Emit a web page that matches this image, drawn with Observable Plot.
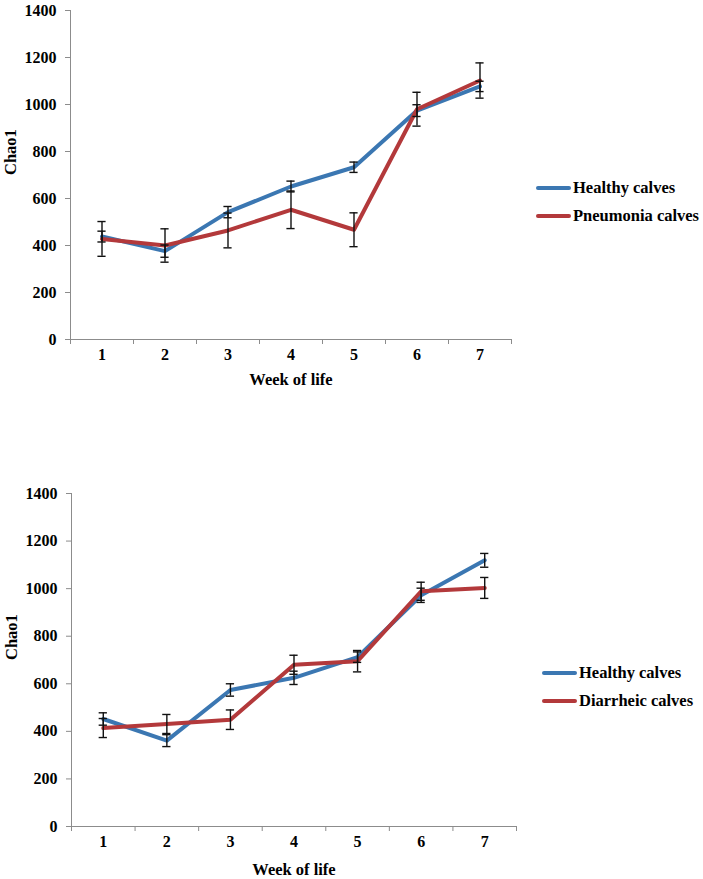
<!DOCTYPE html>
<html>
<head>
<meta charset="utf-8">
<script src="https://cdn.jsdelivr.net/npm/d3@7"></script>
<script src="https://cdn.jsdelivr.net/npm/@observablehq/plot@0.6"></script>
<style>
  body { margin: 0; background: white; }
  #wrap { position: relative; width: 703px; height: 879px; background: white; overflow: hidden; }
  .panel { position: absolute; left: 0; }
  .legend { position: absolute; font-family: "Liberation Serif", "Times New Roman", Tinos, "DejaVu Serif", serif; font-weight: bold; font-size: 16.5px; color: #000; }
  .legend .item { display: flex; align-items: center; height: 28px; }
  .legend .swatch { display: inline-block; width: 35px; height: 4px; border-radius: 2px; margin-right: 2px; }
</style>
</head>
<body>
<div id="wrap"></div>
<script>
// ---------- data ----------
const weeks = [1, 2, 3, 4, 5, 6, 7];
const yTicks = [0, 200, 400, 600, 800, 1000, 1200, 1400];
const xLabel = "Week of life";
const yLabel = "Chao1";

const topSeries = ["Healthy calves", "Pneumonia calves"];
const topHealthy = [438, 376, 542, 651, 733, 974, 1077];
const topHealthyErr = [23, 26, 24, 23, 22, 25, 22];
const topPneumonia = [428, 400, 464, 552, 467, 980, 1102];
const topPneumoniaErr = [74, 71, 74, 80, 72, 72, 75];

const bottomSeries = ["Healthy calves", "Diarrheic calves"];
const bottomHealthy = [452, 361, 574, 625, 712, 972, 1119];
const bottomHealthyErr = [26, 25, 26, 28, 22, 30, 29];
const bottomDiarrheic = [414, 431, 449, 680, 695, 989, 1003];
const bottomDiarrheicErr = [40, 40, 41, 40, 45, 38, 44];

const seriesColors = ["#3b77b2", "#b3393b"];

// ---------- helpers ----------
const FONT = "'Liberation Serif', 'Times New Roman', Tinos, 'DejaVu Serif', serif";
const AXIS = "#8c8c8c";
const boundaries = [0.5, 1.5, 2.5, 3.5, 4.5, 5.5, 6.5, 7.5];

function rows(values, errs) {
  return weeks.map((w, i) => ({week: w, value: values[i], err: errs[i]}));
}

function makeChart(names, valueSets, errSets, layout) {
  const sets = valueSets.map((v, i) => rows(v, errSets[i]));
  const txt = {fontSize: 16, fontWeight: "bold", fontFamily: FONT, fill: "black"};
  const marks = [
    Plot.ruleX([0.5], {stroke: AXIS, strokeWidth: 1}),
    Plot.ruleY([0], {stroke: AXIS, strokeWidth: 1}),
    Plot.axisY({ticks: yTicks, tickSize: 5, stroke: AXIS, label: null, tickFormat: () => ""}),
    Plot.axisX({ticks: boundaries, tickSize: 5, stroke: AXIS, label: null, tickFormat: () => ""}),
    Plot.text(yTicks, {y: d => d, text: d => String(d), frameAnchor: "left", textAnchor: "end", dx: -14, ...txt}),
    Plot.text(weeks, {x: d => d, text: d => String(d), frameAnchor: "bottom", dy: layout.tickDy, ...txt})
  ];
  sets.forEach((data, i) => {
    marks.push(Plot.lineY(data, {x: "week", y: "value", stroke: seriesColors[i], strokeWidth: 4, strokeLinejoin: "round"}));
  });
  sets.forEach((data) => {
    marks.push(Plot.ruleX(data, {x: "week", y1: d => d.value - d.err, y2: d => d.value + d.err, stroke: "#111", strokeWidth: 1.4}));
    marks.push(Plot.ruleY(data, {y: d => d.value + d.err, x1: d => d.week - 0.065, x2: d => d.week + 0.065, stroke: "#111", strokeWidth: 1.4}));
    marks.push(Plot.ruleY(data, {y: d => d.value - d.err, x1: d => d.week - 0.065, x2: d => d.week + 0.065, stroke: "#111", strokeWidth: 1.4}));
  });
  marks.push(Plot.text([yLabel], {text: d => d, frameAnchor: "left", rotate: -90, dx: -60, ...txt, fontSize: 16.5}));
  marks.push(Plot.text([xLabel], {text: d => d, frameAnchor: "bottom", dy: layout.xLabelDy, ...txt, fontSize: 16.5}));

  const chart = Plot.plot({
    width: 703,
    height: layout.height,
    marginLeft: layout.marginLeft,
    marginRight: layout.marginRight,
    marginTop: layout.marginTop,
    marginBottom: layout.marginBottom,
    x: {type: "linear", domain: [0.5, 7.5]},
    y: {domain: [0, 1400]},
    style: {fontFamily: FONT, fontSize: "16px", fontWeight: "bold", color: "black", background: "white", overflow: "visible"},
    marks
  });
  const holder = document.createElement("div");
  holder.className = "panel";
  holder.style.top = layout.top + "px";
  holder.appendChild(chart);
  document.getElementById("wrap").appendChild(holder);

  const legend = document.createElement("div");
  legend.className = "legend";
  legend.style.left = layout.legendLeft + "px";
  legend.style.top = layout.legendTop + "px";
  names.forEach((n, i) => {
    const item = document.createElement("div");
    item.className = "item";
    const sw = document.createElement("span");
    sw.className = "swatch";
    sw.style.background = seriesColors[i];
    const tx = document.createElement("span");
    tx.textContent = n;
    item.appendChild(sw);
    item.appendChild(tx);
    legend.appendChild(item);
  });
  document.getElementById("wrap").appendChild(legend);
}

makeChart(topSeries, [topHealthy, topPneumonia], [topHealthyErr, topPneumoniaErr], {
  top: 0, height: 400, marginLeft: 70, marginRight: 192, marginTop: 10, marginBottom: 61,
  tickDy: 20, xLabelDy: 45, legendLeft: 536, legendTop: 174
});
makeChart(bottomSeries, [bottomHealthy, bottomDiarrheic], [bottomHealthyErr, bottomDiarrheicErr], {
  top: 480, height: 399, marginLeft: 71, marginRight: 187, marginTop: 13, marginBottom: 53,
  tickDy: 20, xLabelDy: 48, legendLeft: 542, legendTop: 659
});
</script>
</body>
</html>
